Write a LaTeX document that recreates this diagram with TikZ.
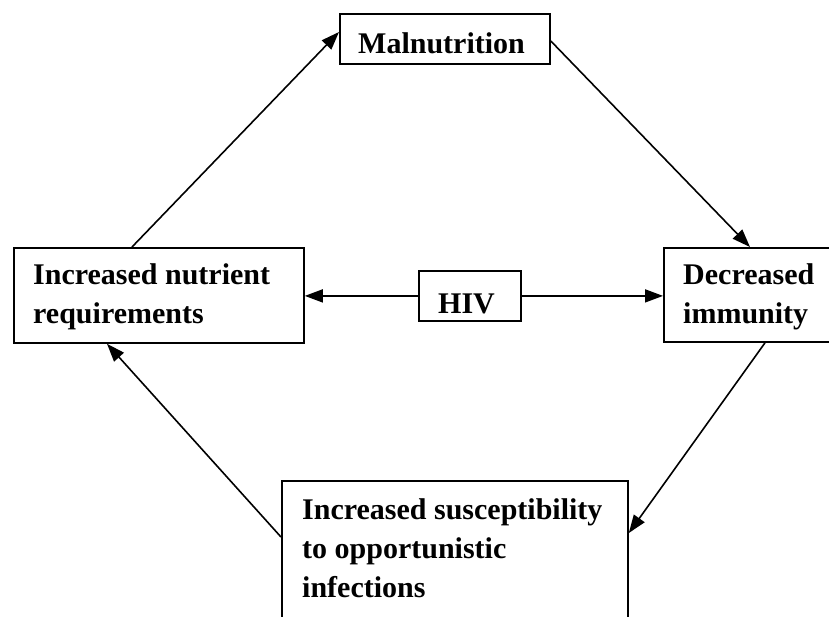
\documentclass[tikz,border=0pt]{standalone}
\usepackage{fontspec}
\setmainfont{Liberation Serif}
\usetikzlibrary{arrows.meta}
\begin{document}
\begin{tikzpicture}[x=1pt,y=-1pt,
  boxnode/.style={draw,line width=1.8pt,rectangle,inner sep=0pt,anchor=north west},
  txt/.style={inner sep=0pt,anchor=base west,font=\fontsize{30}{39}\selectfont\bfseries},
  conn/.style={line width=1.6pt,-{Triangle[length=18pt,width=13pt]}}]
\useasboundingbox (0,0) rectangle (829,616);
\clip (0,0) rectangle (829,616);
\fill[white] (0,0) rectangle (829,616);
% boxes
\node[boxnode,minimum width=210pt,minimum height=50pt] (mal) at (339,13) {};
\node[boxnode,minimum width=290pt,minimum height=95pt] (nut) at (13,247) {};
\node[boxnode,minimum width=102pt,minimum height=50pt] (hiv) at (418,270) {};
\node[boxnode,minimum width=180pt,minimum height=94pt] (dec) at (663,247) {};
\node[boxnode,minimum width=346pt,minimum height=160pt] (inf) at (281,480) {};
% texts
\node[txt] (tmal) at (358,53) {Malnutrition};
\node[txt] (tnut1) at (33,284) {Increased nutrient};
\node[txt] (tnut2) at (33,323) {requirements};
\node[txt] (thiv) at (438,313) {HIV};
\node[txt] (tdec1) at (683,284) {Decreased};
\node[txt] (tdec2) at (683,323) {immunity};
\node[txt] (tinf1) at (302,519) {Increased susceptibility};
\node[txt] (tinf2) at (302,558) {to opportunistic};
\node[txt] (tinf3) at (302,597) {infections};
% connectors
\draw[conn] ([xshift=119pt]nut.north west) -- ([yshift=-19pt]mal.north west);
\draw[conn] ([yshift=-28pt]mal.north east) -- ([xshift=87pt]dec.north west);
\draw[conn] ([xshift=102pt]dec.south west) -- ([yshift=-53pt]inf.north east);
\draw[conn] ([yshift=-57pt]inf.north west) -- ([xshift=94pt]nut.south west);
\draw[conn] (hiv.west) -- (hiv.west -| nut.east);
\draw[conn] (hiv.east) -- (hiv.east -| dec.west);
\end{tikzpicture}
\end{document}
